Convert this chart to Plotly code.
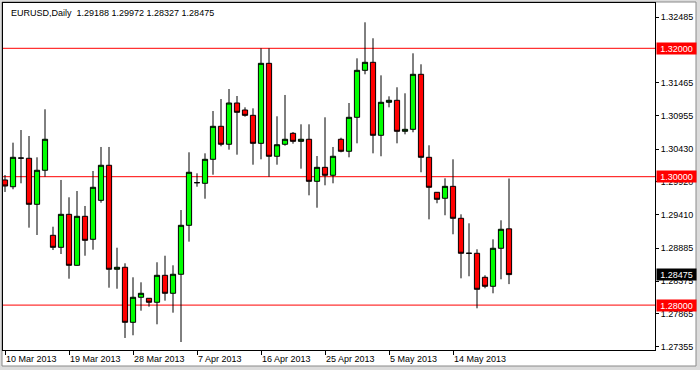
import pandas as pd
import plotly.graph_objects as go

# ---- data (EURUSD daily) ----
dates = [d.strftime("%Y-%m-%d") for d in pd.date_range("2013-03-10", "2013-05-22") if d.weekday() != 5]

opens = [1.29949, 1.29844, 1.30290, 1.30287, 1.29570, 1.30100, 1.29087, 1.28900, 1.29414, 1.28620,
         1.29383, 1.29025, 1.29632, 1.30178, 1.28558, 1.28589, 1.27732, 1.28122, 1.28106, 1.28044,
         1.28464, 1.28184, 1.28480, 1.29243, 1.29907, 1.29897, 1.30271, 1.30785, 1.30505, 1.31148,
         1.31039, 1.30956, 1.30520, 1.31766, 1.30318, 1.30505, 1.30676, 1.30551, 1.30583, 1.29928,
         1.30146, 1.30022, 1.30583, 1.30396, 1.30925, 1.31657, 1.31782, 1.30645, 1.31159, 1.31190,
         1.30707, 1.30738, 1.31595, 1.30302, 1.29757, 1.29664, 1.29850, 1.29352, 1.28807, 1.28807,
         1.28433, 1.28293, 1.28885, 1.29188]
highs = [1.30026, 1.30530, 1.30727, 1.30634, 1.30302, 1.31050, 1.29221, 1.29949, 1.29679, 1.29777,
         1.29544, 1.30089, 1.30463, 1.30463, 1.28894, 1.28651, 1.28433, 1.28355, 1.28110, 1.28667,
         1.28769, 1.28620, 1.29481, 1.30380, 1.30053, 1.30364, 1.31023, 1.31210, 1.31366, 1.31257,
         1.31081, 1.31065, 1.32000, 1.32000, 1.30941, 1.31273, 1.30696, 1.30816, 1.30816, 1.30322,
         1.30925, 1.30463, 1.30607, 1.31148, 1.31844, 1.32405, 1.32156, 1.31579, 1.31252, 1.31393,
         1.31299, 1.31922, 1.31751, 1.30489, 1.29760, 1.29975, 1.30271, 1.29414, 1.29274, 1.28869,
         1.28464, 1.29025, 1.29321, 1.29972]
lows = [1.29762, 1.29804, 1.29897, 1.29206, 1.29092, 1.30000, 1.28858, 1.28796, 1.28411, 1.28612,
        1.28769, 1.28863, 1.29595, 1.28271, 1.28255, 1.27488, 1.27530, 1.27913, 1.27975, 1.27701,
        1.28069, 1.27882, 1.27425, 1.28988, 1.29844, 1.29657, 1.30031, 1.30474, 1.30421, 1.30343,
        1.30935, 1.30187, 1.30271, 1.30000, 1.30187, 1.30483, 1.30514, 1.30125, 1.29710, 1.29517,
        1.29866, 1.29897, 1.30380, 1.30302, 1.30520, 1.31595, 1.30364, 1.30318, 1.31081, 1.30520,
        1.30660, 1.30692, 1.30069, 1.29336, 1.29586, 1.29399, 1.29103, 1.28417, 1.28449, 1.27950,
        1.28262, 1.28184, 1.28402, 1.28327]
closes = [1.29855, 1.30302, 1.30290, 1.29570, 1.30100, 1.30583, 1.28900, 1.29414, 1.28620, 1.29383,
          1.29009, 1.29835, 1.30178, 1.28558, 1.28589, 1.27732, 1.28122, 1.28184, 1.28044, 1.28464,
          1.28184, 1.28480, 1.29243, 1.30069, 1.29907, 1.30271, 1.30785, 1.30505, 1.31148, 1.31003,
          1.30956, 1.30520, 1.31766, 1.30318, 1.30498, 1.30583, 1.30551, 1.30583, 1.29928, 1.30146,
          1.30022, 1.30318, 1.30396, 1.30925, 1.31657, 1.31782, 1.30645, 1.31159, 1.31190, 1.30707,
          1.30738, 1.31595, 1.30302, 1.29835, 1.29648, 1.29850, 1.29352, 1.28807, 1.28807, 1.28246,
          1.28293, 1.28885, 1.29181, 1.28475]

level_lines = [1.32000, 1.30000, 1.28000]
y_ticks = [1.32485, 1.31465, 1.30955, 1.30430, 1.29920, 1.29410, 1.28885, 1.28375, 1.27865, 1.27355]
x_tick_idx = [0, 8, 16, 24, 32, 40, 48, 56]
x_tick_labels = ["10 Mar 2013", "19 Mar 2013", "28 Mar 2013", "7 Apr 2013",
                 "16 Apr 2013", "25 Apr 2013", "5 May 2013", "14 May 2013"]
symbol = "EURUSD,Daily"

# ---- layout geometry (pixels) ----
W, H = 700, 370
ML, MR, MT, MB = 3, 45, 3, 20
PW, PH = W - ML - MR, H - MT - MB
FONT = "Tahoma, Liberation Sans, Arial, sans-serif"

def px_x(p):
    return (p - ML) / PW

def px_y(p):
    return (H - MB - p) / PH

fig = go.Figure()
fig.add_trace(go.Candlestick(
    x=dates, open=opens, high=highs, low=lows, close=closes,
    increasing=dict(line=dict(color="black", width=1), fillcolor="#00FF00"),
    decreasing=dict(line=dict(color="black", width=1), fillcolor="#FF0000"),
    whiskerwidth=0, showlegend=False, hoverinfo="skip",
))

shapes = [dict(type="rect", xref="paper", yref="paper",
               x0=px_x(2), x1=px_x(696), y0=px_y(366), y1=px_y(2),
               fillcolor="white", line=dict(color="#8a8a8a", width=1), layer="below")]
for lv in level_lines:
    shapes.append(dict(type="line", xref="paper", yref="y", x0=0, x1=1, y0=lv, y1=lv,
                       line=dict(color="#FF0000", width=1), layer="below"))

annotations = [dict(xref="paper", yref="paper", x=px_x(9), y=px_y(13), xanchor="left", yanchor="middle",
                    showarrow=False, font=dict(family=FONT, size=9, color="black"),
                    text=symbol + "\u00a0\u00a0" + " ".join(f"{v:.5f}" for v in
                                                           [opens[-1], highs[-1], lows[-1], closes[-1]]))]
for lv in level_lines:
    annotations.append(dict(xref="paper", yref="y", x=px_x(656), y=lv, xanchor="left", yanchor="middle",
                            showarrow=False, text=f"{lv:.5f}", bgcolor="#FF0000", width=39, height=11,
                            borderpad=0, font=dict(family=FONT, size=9, color="white")))
annotations.append(dict(xref="paper", yref="y", x=px_x(656), y=closes[-1], xanchor="left", yanchor="middle",
                        showarrow=False, text=f"{closes[-1]:.5f}", bgcolor="black", width=39, height=11,
                        borderpad=0, font=dict(family=FONT, size=9, color="white")))

y_top = 1.30 + (176.7 - MT) / 6420
y_bot = 1.30 - (H - MB - 176.7) / 6420

fig.update_layout(
    width=W, height=H, margin=dict(l=ML, r=MR, t=MT, b=MB),
    paper_bgcolor="#DCDCDC", plot_bgcolor="white",
    boxgap=0.35, boxgroupgap=0,
    shapes=shapes, annotations=annotations,
    font=dict(family=FONT, size=9, color="black"),
    xaxis=dict(type="category", range=[(ML - 5) / 8, (W - MR - 5) / 8],
               rangeslider=dict(visible=False), showgrid=False, zeroline=False,
               tickvals=[dates[i] for i in x_tick_idx], ticktext=x_tick_labels,
               ticks="outside", ticklen=4, tickcolor="black", ticklabelposition="outside right",
               showline=True, linecolor="black", linewidth=1, mirror=True,
               tickfont=dict(family=FONT, size=9, color="black")),
    yaxis=dict(side="right", range=[y_bot, y_top], showgrid=False, zeroline=False,
               tickvals=y_ticks, ticktext=[f"{v:.5f}" for v in y_ticks],
               ticks="outside", ticklen=3, tickcolor="black",
               showline=True, linecolor="black", linewidth=1, mirror=True,
               tickfont=dict(family=FONT, size=9, color="black")),
)

fig.write_html("out.html")
